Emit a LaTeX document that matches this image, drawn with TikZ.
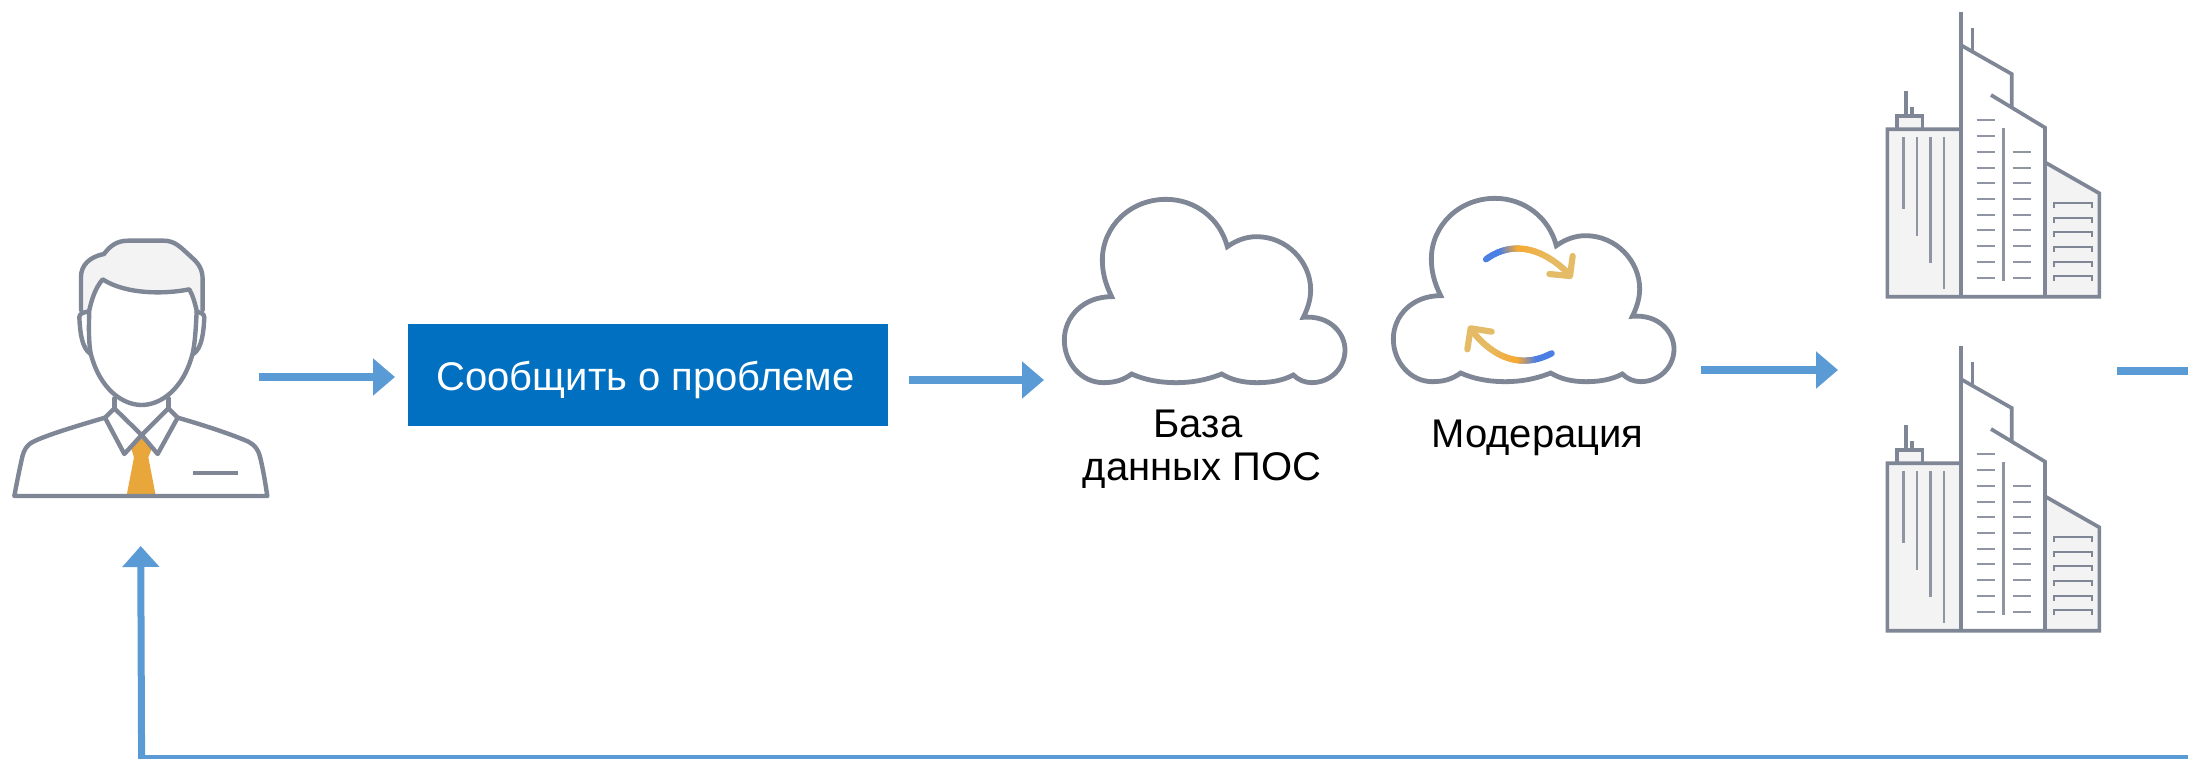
\documentclass[tikz,border=0pt]{standalone}
\usepackage{fontspec}
\usetikzlibrary{arrows.meta}
\setmainfont{Liberation Sans}
\definecolor{iconc}{HTML}{7F8695}
\definecolor{thinc}{HTML}{8F95A3}
\definecolor{lightc}{HTML}{F3F3F4}
\definecolor{arrowc}{HTML}{5B9BD5}
\definecolor{boxc}{HTML}{0170C1}
\definecolor{tiec}{HTML}{E8A63B}
\definecolor{bluec}{HTML}{4C7FE3}
\definecolor{orangec}{HTML}{F8A931}
\definecolor{tanc}{HTML}{E4BC68}
\tikzset{
  icon/.style={draw=iconc,line width=4.4pt,line join=round,line cap=round},
  bld/.style={draw=iconc,line width=3.7pt,line join=miter},
  bldthin/.style={draw=thinc,line width=2.3pt},
  flow/.style={draw=arrowc,line width=8pt,-{Triangle[length=22pt,width=36pt]}},
  flowtail/.style={draw=arrowc,line width=8pt},
  labeltext/.style={font=\fontsize{40}{43}\selectfont,text=black,inner sep=0pt},
  zoomed/.style={x=0.33333pt,y=-0.33333pt},
}
\newcommand{\drawcloud}{%
  \draw[icon,line width=4.8pt,line join=miter,fill=white] (215,350) .. controls (195,310) and (187,275) .. (187,240)
    .. controls (187,140) and (270,58) .. (378,58) .. controls (465,58) and (540,115) .. (562,200)
    .. controls (590,180) and (620,170) .. (650,170) .. controls (740,170) and (812,245) .. (812,330)
    .. controls (812,360) and (802,388) .. (790,412) .. controls (870,405) and (915,460) .. (915,510)
    .. controls (915,565) and (870,608) .. (815,608) .. controls (795,608) and (775,600) .. (760,585)
    .. controls (725,603) and (690,608) .. (650,608) .. controls (610,608) and (575,600) .. (545,582)
    .. controls (500,600) and (455,608) .. (410,608) .. controls (360,608) and (315,600) .. (275,582)
    .. controls (250,600) and (225,608) .. (190,608) .. controls (125,608) and (73,550) .. (73,480)
    .. controls (73,410) and (130,350) .. (215,350) -- cycle;}
\newcommand{\drawbuilding}{%
  \fill[lightc] (82,388) rectangle (302,890);
  \fill[lightc] (110,347) rectangle (187,388);
  \fill[lightc] (555,487) -- (718,580) -- (718,890) -- (555,890) -- cycle;
  \draw[bld] (137,347) -- (137,273);
  \draw[bld] (156,347) -- (156,322);
  \draw[bld] (110,388) -- (110,347) -- (187,347) -- (187,388);
  \draw[bld] (302,388) -- (82,388) -- (82,890) -- (718,890) -- (718,580) -- (555,487);
  \draw[bld] (302,36) -- (302,890);
  \draw[bld] (302,135) -- (455,222) -- (455,325);
  \draw[bld] (337,85) -- (337,152);
  \draw[bld] (393,285) -- (555,383) -- (555,890);
  \foreach \xx/\yy in {130/627,171/707,211/788,252/868} \draw[bldthin] (\xx,412) -- (\xx,\yy);
  \draw[bldthin] (430,385) -- (430,842);
  \foreach \yy in {361,408,455,503,550,597,644,691,739,786,833} \draw[bldthin] (350,\yy) -- (404,\yy);
  \foreach \yy in {455,503,550,597,644,691,739,786,833} \draw[bldthin] (458,\yy) -- (512,\yy);
  \foreach \yy in {609,653,697,741,785,829}
    \draw[draw=iconc,line width=2.2pt] (581,\yy+15) -- (581,\yy) -- (697,\yy) -- (697,\yy+15);
}
% gradient stroke along a cubic: P0 P1 P2 P3, from blue to orange to tan
\newcommand{\gradcurve}[8]{%
  \foreach \i in {0,...,39}{%
    \pgfmathsetmacro{\ta}{\i/40}\pgfmathsetmacro{\tb}{(\i+1)/40}%
    \pgfmathsetmacro{\xa}{(1-\ta)^3*#1+3*(1-\ta)^2*\ta*#3+3*(1-\ta)*\ta^2*#5+\ta^3*#7}%
    \pgfmathsetmacro{\ya}{(1-\ta)^3*#2+3*(1-\ta)^2*\ta*#4+3*(1-\ta)*\ta^2*#6+\ta^3*#8}%
    \pgfmathsetmacro{\xb}{(1-\tb)^3*#1+3*(1-\tb)^2*\tb*#3+3*(1-\tb)*\tb^2*#5+\tb^3*#7}%
    \pgfmathsetmacro{\yb}{(1-\tb)^3*#2+3*(1-\tb)^2*\tb*#4+3*(1-\tb)*\tb^2*#6+\tb^3*#8}%
    \pgfmathtruncatemacro{\pa}{\i<8 ? 100 : (\i<17 ? 100-(\i-8)*11 : 0)}%
    \pgfmathtruncatemacro{\pb}{\i<17 ? 100 : (\i<32 ? 100-(\i-17)*6 : 10)}%
    \ifnum\i<17 \draw[line width=6.2pt,line cap=round,draw=bluec!\pa!orangec] (\xa,\ya) -- (\xb,\yb);
    \else \draw[line width=6.2pt,line cap=round,draw=orangec!\pb!tanc] (\xa,\ya) -- (\xb,\yb); \fi
  }%
}
\begin{document}
\begin{tikzpicture}[x=1pt,y=-1pt]
\useasboundingbox (0,0) rectangle (2188,758);
\clip (0,0) rectangle (2188,758);
\fill[white] (0,0) rectangle (2188,758);

% person
\begin{scope}[shift={(0,220)},zoomed]
  \fill[lightc] (243,270) -- (243,170) .. controls (243,135) and (270,110) .. (312,102)
     .. controls (330,78) and (350,62) .. (385,62) -- (490,62) .. controls (525,62) and (540,80) .. (575,112)
     .. controls (598,132) and (608,150) .. (608,180) -- (608,270) -- cycle;
  \fill[white] (268,270) -- (272,400) .. controls (300,510) and (370,555) .. (425,555) .. controls (480,555) and (550,510) .. (578,400) -- (590,270) -- (568,208) .. controls (500,222) and (380,225) .. (308,178) -- cycle;
  \draw[icon] (243,270) -- (243,170) .. controls (243,135) and (270,110) .. (312,102)
     .. controls (330,78) and (350,62) .. (385,62) -- (490,62) .. controls (525,62) and (540,80) .. (575,112)
     .. controls (598,132) and (608,150) .. (608,180) -- (608,270);
  \draw[icon] (268,270) .. controls (275,240) and (285,205) .. (308,178)
     .. controls (380,225) and (500,222) .. (568,208) .. controls (578,225) and (585,250) .. (590,272)
     .. controls (588,320) and (585,370) .. (578,400) .. controls (550,510) and (480,555) .. (425,555)
     .. controls (370,555) and (300,510) .. (272,400) .. controls (266,370) and (266,320) .. (268,270);
  \draw[icon] (262,275) .. controls (250,278) and (238,280) .. (238,292) .. controls (240,335) and (245,385) .. (272,402);
  \draw[icon] (590,275) .. controls (600,278) and (613,280) .. (613,292) .. controls (611,335) and (606,385) .. (580,402);
  \draw[icon] (343,535) -- (343,565);
  \draw[icon] (505,535) -- (505,565);
  \fill[tiec] (425,648) -- (392,680) -- (402,712) -- (380,826) -- (467,826) -- (445,712) -- (458,680) -- cycle;
  \draw[icon] (343,565) -- (315,593) -- (373,702) -- (425,645) -- (343,565);
  \draw[icon] (505,565) -- (533,593) -- (473,702) -- (425,645) -- (505,565);
  \draw[icon] (315,593) .. controls (230,618) and (140,645) .. (100,665)
     .. controls (80,675) and (72,690) .. (67,710) .. controls (58,750) and (50,790) .. (43,828)
     -- (802,828) .. controls (796,790) and (790,750) .. (780,710) .. controls (775,690) and (765,675) .. (745,665)
     .. controls (700,645) and (620,618) .. (533,593);
  \draw[draw=iconc,line width=3.8pt] (580,758) -- (713,758);
\end{scope}

% box
\node[fill=boxc,minimum width=480pt,minimum height=102pt,inner sep=0pt,anchor=north west] (report) at (408,324) {};
\node[labeltext,text=white,anchor=base] (reportlabel) at (645.5,390) {Сообщить о проблеме};

% clouds
\begin{scope}[shift={(1040,180)},zoomed]
  \drawcloud
\end{scope}
\begin{scope}[shift={(1369,179)},zoomed]
  \drawcloud
\end{scope}
\begin{scope}[shift={(1370,180)},zoomed]
  \gradcurve{348}{238}{420}{185}{510}{195}{598}{283}
  \gradcurve{545}{520}{460}{565}{375}{540}{306}{452}
  \draw[line width=6.2pt,line cap=round,line join=round,draw=tanc] (608,228) -- (600,288) -- (538,282);
  \draw[line width=6.2pt,line cap=round,line join=round,draw=tanc] (292,508) -- (302,445) -- (365,455);
\end{scope}
\node[labeltext,anchor=center,align=center] (dblabel) at (1202,449) {База\kern8pt\\данных ПОС};
\node[labeltext,anchor=base] (modlabel) at (1537.5,447) {Модерация};

% buildings
\begin{scope}[shift={(1860,0)},zoomed]
  \drawbuilding
\end{scope}
\begin{scope}[shift={(1860,334)},zoomed]
  \drawbuilding
\end{scope}

% connectors
\coordinate (a1s) at (259,377);  \coordinate (a1e) at (395,377);
\coordinate (a2s) at (909,380);  \coordinate (a2e) at (1044,380);
\coordinate (a3s) at (1701,370); \coordinate (a3e) at (1838,370);
\coordinate (a4s) at (2117,371); \coordinate (a4e) at (2188,371);
\coordinate (ret0) at (2188,758.5); \coordinate (ret1) at (141.6,758.5); \coordinate (ret2) at (140.7,546);
\draw[flow] (a1s) -- (a1e);
\draw[flow] (a2s) -- (a2e);
\draw[flow] (a3s) -- (a3e);
\draw[flowtail] (a4s) -- (a4e);
\draw[draw=arrowc,line width=7pt,line join=miter,-{Triangle[length=21pt,width=36pt]}] (ret0) -- (ret1) -- (ret2);
\end{tikzpicture}
\end{document}
